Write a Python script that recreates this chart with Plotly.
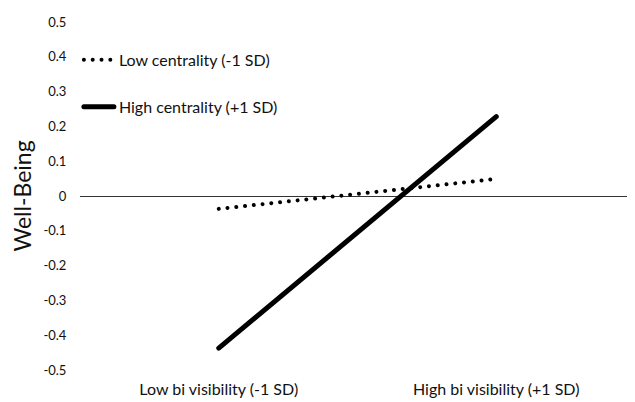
import plotly.graph_objects as go

categories = ["Low bi visibility (-1 SD)", "High bi visibility (+1 SD)"]
low_centrality = [-0.037, 0.049]
high_centrality = [-0.437, 0.228]
y_tick_vals = [0.5, 0.4, 0.3, 0.2, 0.1, 0, -0.1, -0.2, -0.3, -0.4, -0.5]
y_tick_text = ["0.5", "0.4", "0.3", "0.2", "0.1", "0", "-0.1", "-0.2", "-0.3", "-0.4", "-0.5"]

FONT = "Lato"
TXT = "#111111"

fig = go.Figure()
fig.add_trace(go.Scatter(
    x=categories, y=low_centrality, mode="lines", name="Low centrality (-1 SD)",
    line=dict(color="black", width=4, dash="4px,5px"), legend="legend",
))
fig.add_trace(go.Scatter(
    x=categories, y=high_centrality, mode="lines", name="High centrality (+1 SD)",
    line=dict(color="black", width=5), legend="legend2",
))

# page body has an 8px margin, so the figure is drawn 8px smaller and offset
fig.update_layout(
    width=627, height=394,
    margin=dict(l=72, r=0, t=14, b=32),
    paper_bgcolor="white", plot_bgcolor="white",
    font=dict(family=FONT, color=TXT),
    xaxis=dict(
        type="category", range=[-0.5, 1.5], showgrid=False, zeroline=False, showline=False,
        automargin=False,
        ticks="outside", ticklen=5, tickcolor="rgba(0,0,0,0)",
        tickfont=dict(size=16, family=FONT, color=TXT),
    ),
    yaxis=dict(
        range=[-0.5, 0.5], showgrid=False, zeroline=True, zerolinecolor="#333333", zerolinewidth=1,
        showline=False, tickmode="array", tickvals=y_tick_vals, ticktext=y_tick_text,
        automargin=False,
        ticks="outside", ticklen=10, tickcolor="rgba(0,0,0,0)",
        tickfont=dict(size=13, family=FONT, color=TXT),
        title=dict(text="Well-Being", font=dict(size=23, family=FONT, color=TXT), standoff=24),
    ),
    legend=dict(x=-0.002, xanchor="left", y=0.891, yanchor="middle", bgcolor="rgba(0,0,0,0)",
                font=dict(size=16, family=FONT, color=TXT)),
    legend2=dict(x=-0.002, xanchor="left", y=0.756, yanchor="middle", bgcolor="rgba(0,0,0,0)",
                 font=dict(size=16, family=FONT, color=TXT)),
    showlegend=True,
)

round_dots = """
var gd = document.getElementById('{plot_id}');
gd.querySelectorAll('path.js-line').forEach(function(p){
  p.style.strokeLinecap = 'round';
  var d = p.style.strokeDasharray;
  if (d && d.indexOf('4px') !== -1) {
    p.style.strokeDasharray = '0.01px, 8.8px';
  }
});
"""

fig.write_html("out.html", post_script=round_dots)
